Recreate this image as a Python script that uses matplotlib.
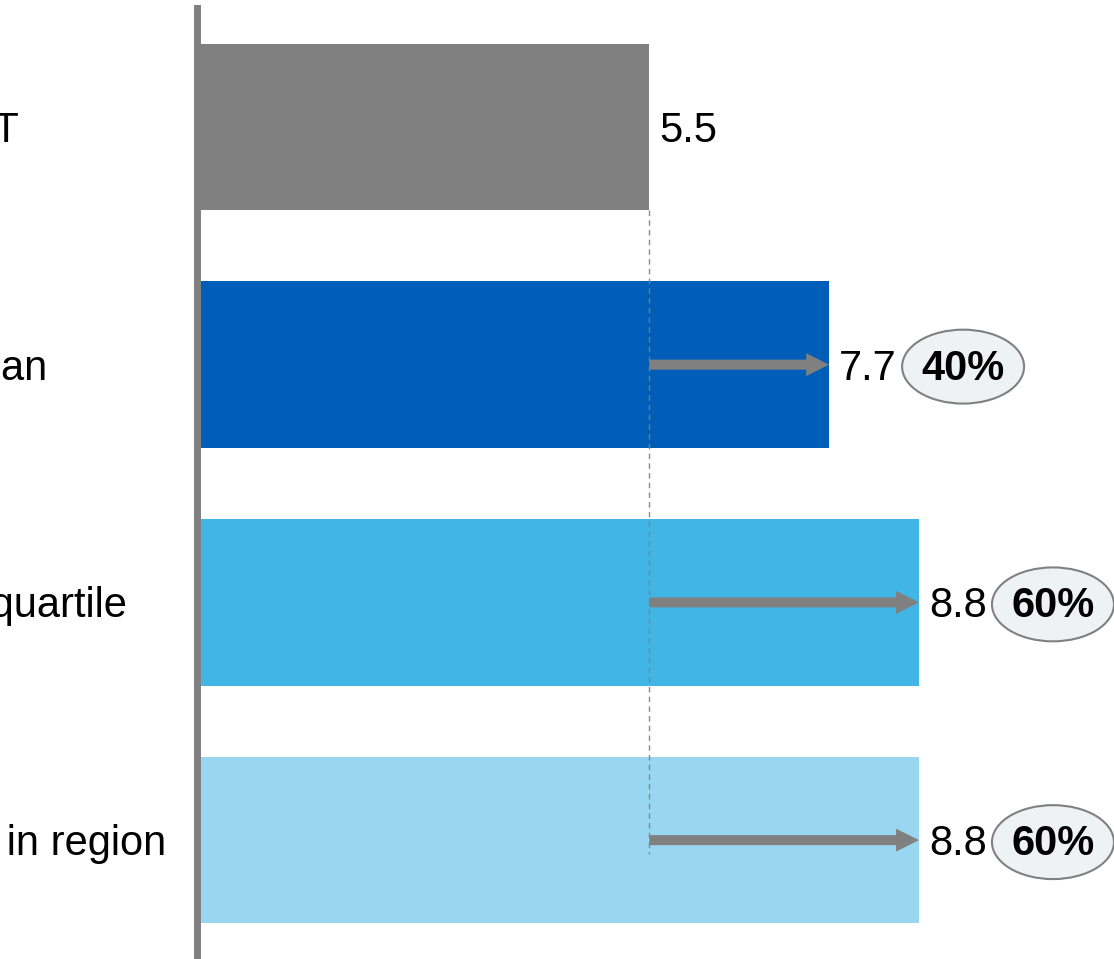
import matplotlib
matplotlib.use("Agg")
import matplotlib.pyplot as plt
from matplotlib.patches import Ellipse, FancyArrowPatch, ArrowStyle
from matplotlib.transforms import blended_transform_factory

plt.rcParams['font.family'] = ['Liberation Sans', 'DejaVu Sans']

# Benchmark data
categories = ["CSAT", "Median", "Top quartile", "Best in region"]
values = [5.5, 7.7, 8.8, 8.8]
uplift = ["", "40%", "60%", "60%"]
colors = ["#808080", "#005EB8", "#41B6E6", "#99D6F0"]

W, H = 1114, 959
fig = plt.figure(figsize=(W / 100, H / 100), dpi=100)
ax = fig.add_axes([200 / W, 0, 914 / W, 951 / H])

px_per_unit = 81.7
y_unit_px = 238
ax.set_xlim(0, 914 / px_per_unit)
ax.set_ylim(3.5, -0.5)

ypos = list(range(len(categories)))
ax.barh(ypos, values, height=0.70, color=colors, zorder=2)

for s in ["top", "right", "bottom"]:
    ax.spines[s].set_visible(False)
ax.spines["left"].set_color("#808080")
ax.spines["left"].set_linewidth(5)
ax.spines["left"].set_position(("outward", 2.5))
ax.set_xticks([])
ax.set_yticks([])

base = values[0]
fs = 30
text_dy = 4 / y_unit_px  # nudge text down slightly

# Reference line at the baseline value
ax.plot([base, base], [0.35, 3.06], color="#808080", lw=1.0,
        ls=(0, (4, 3)), alpha=0.9, zorder=3)

# Category labels, left aligned
lbl_tr = blended_transform_factory(fig.transFigure, ax.transData)
for y, c in zip(ypos, categories):
    ax.text(-88 / W, y + text_dy, c, transform=lbl_tr, ha="left",
            va="center", fontsize=fs, color="black", clip_on=False)

for y, v, u in zip(ypos, values, uplift):
    ax.annotate(f"{v:.1f}", xy=(v, y + text_dy), xytext=(10, 0),
                textcoords="offset pixels", ha="left", va="center",
                fontsize=fs, color="black", annotation_clip=False)
    if u:
        arr = FancyArrowPatch((base, y), (v, y),
                              arrowstyle=ArrowStyle.Simple(head_length=16.5,
                                                           head_width=16.5,
                                                           tail_width=7.2),
                              mutation_scale=1, shrinkA=0, shrinkB=0,
                              color="#808080", lw=0, zorder=4)
        ax.add_patch(arr)
        cx = v + 134 / px_per_unit
        ell = Ellipse((cx, y + 2 / y_unit_px), 122 / px_per_unit,
                      74 / y_unit_px, facecolor="#EFF2F3",
                      edgecolor="#808080", lw=1.5, zorder=4, clip_on=False)
        ax.add_patch(ell)
        ax.text(cx, y + text_dy, u, ha="center", va="center", fontsize=fs,
                fontweight="bold", color="black", zorder=5, clip_on=False)

fig.savefig("out.png", dpi=100)
